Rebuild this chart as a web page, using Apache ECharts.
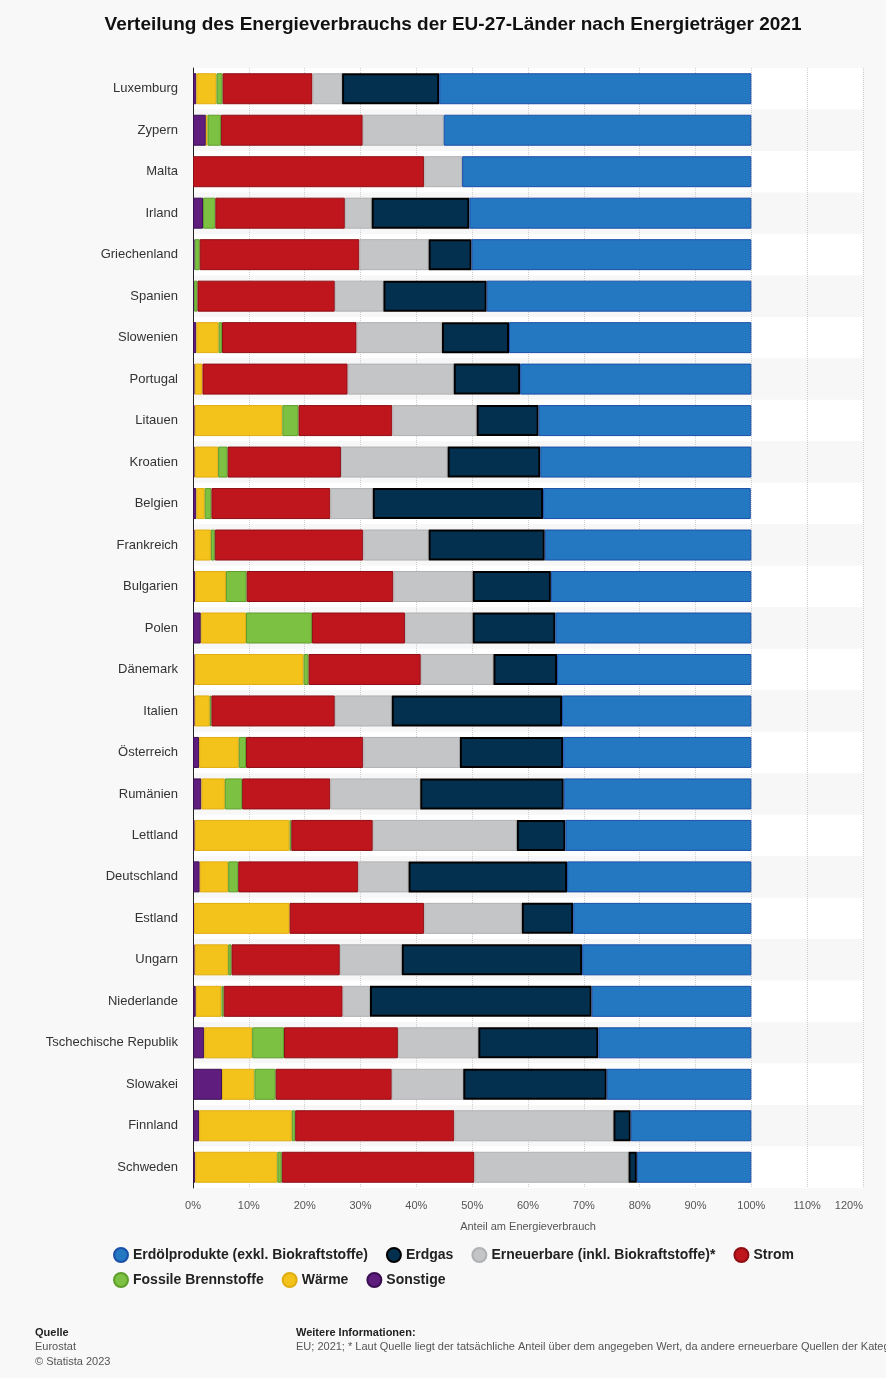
<!DOCTYPE html>
<html>
<head>
<meta charset="utf-8">
<script src="https://cdn.jsdelivr.net/npm/echarts@6/dist/echarts.min.js"></script>
<style>
html,body{margin:0;padding:0;background:#f8f8f8;}
#c{width:886px;height:1378px;}
</style>
</head>
<body>
<div id="c"></div>
<script>
const countries = ['Luxemburg','Zypern','Malta','Irland','Griechenland','Spanien','Slowenien','Portugal','Litauen','Kroatien','Belgien','Frankreich','Bulgarien','Polen','Dänemark','Italien','Österreich','Rumänien','Lettland','Deutschland','Estland','Ungarn','Niederlande','Tschechische Republik','Slowakei','Finnland','Schweden'];
const sonstige = [0.6,2.3,0,1.8,0.3,0.2,0.6,0.3,0.3,0.3,0.6,0.3,0.4,1.4,0.3,0.3,1.1,1.5,0.3,1.2,0.2,0.3,0.5,2.0,5.2,1.1,0.4];
const waerme = [3.6,0.3,0,0,0,0,4.0,1.4,15.7,4.2,1.5,2.9,5.5,8.1,19.5,2.7,7.1,4.2,17.0,5.1,17.1,6.0,4.6,8.6,5.8,16.6,14.7];
const fossile = [1.1,2.4,0,2.2,0.9,0.6,0.6,0,2.9,1.7,1.2,0.7,3.7,11.8,0.9,0.3,1.3,3.1,0.3,1.8,0,0.6,0.4,5.7,3.8,0.6,0.8];
const strom = [16.1,25.4,41.4,23.2,28.6,24.6,24.1,26.0,16.8,20.3,21.3,26.6,26.3,16.7,20.1,22.1,21.0,15.8,14.6,21.5,24.1,19.4,21.3,20.4,20.8,28.5,34.5];
const erneuerbare = [5.3,14.5,6.8,4.8,12.4,8.7,15.3,19.0,15.1,19.1,7.6,11.7,14.2,12.1,13.0,10.2,17.3,16.1,25.8,9.0,17.5,11.1,4.9,14.4,12.8,28.5,27.6];
const erdgas = [17.4,0,0,17.5,7.7,18.5,12.0,11.9,11.1,16.6,30.5,20.8,14.0,14.8,11.4,30.5,18.5,25.7,8.7,28.4,9.2,32.3,39.7,21.5,25.7,3.1,1.5];
const erdoel = [55.9,55.1,51.8,50.5,50.1,47.4,43.4,41.4,38.1,37.8,37.2,37.0,35.9,35.1,34.8,33.9,33.7,33.6,33.3,33.0,31.9,30.3,28.6,27.4,25.9,21.6,20.5];
const xTicks = [0,10,20,30,40,50,60,70,80,90,100,110,120];

const names = {
  oel:'Erdölprodukte (exkl. Biokraftstoffe)', gas:'Erdgas', ern:'Erneuerbare (inkl. Biokraftstoffe)*',
  strom:'Strom', fos:'Fossile Brennstoffe', waerme:'Wärme', sonst:'Sonstige'
};
const FONT = 'Liberation Sans, Arial, sans-serif';
const NARROW = 'Liberation Sans Narrow, Liberation Sans, Arial, sans-serif';

function mk(name, data, color, border, bw) {
  return {
    name, type:'bar', stack:'total', barWidth:31,
    itemStyle:{color, borderColor:border, borderWidth:bw},
    data: data.map(v => v === 0 ? null : v)
  };
}
const series = [
  mk(names.sonst, sonstige, '#5f1d7d', '#3a0f52', 1),
  mk(names.waerme, waerme, '#f3c21b', '#e0ad10', 1),
  mk(names.fos, fossile, '#7cc142', '#5e9e2c', 1),
  mk(names.strom, strom, '#bf151d', '#8e0e14', 1),
  mk(names.ern, erneuerbare, '#c4c5c7', '#b0b1b3', 1),
  mk(names.gas, erdgas, '#04304f', '#000000', 2),
  mk(names.oel, erdoel, '#2477c1', '#1b4fa8', 1)
];

const chart = echarts.init(document.getElementById('c'), null, {renderer:'canvas'});
chart.setOption({
  backgroundColor:'#f8f8f8',
  animation:false,
  title:{text:'Verteilung des Energieverbrauchs der EU-27-Länder nach Energieträger 2021', left:448, textAlign:'center', top:10,
    textStyle:{fontFamily:FONT, fontWeight:'bold', fontSize:19, color:'#111'}},
  legend:[
    {data:[names.oel,names.gas,names.ern,names.strom], left:108, top:1242, icon:'circle', itemWidth:14, itemHeight:14, itemGap:18,
      textStyle:{fontFamily:NARROW, fontWeight:'bold', fontSize:14, color:'#222'}},
    {data:[names.fos,names.waerme,names.sonst], left:108, top:1267, icon:'circle', itemWidth:14, itemHeight:14, itemGap:18,
      textStyle:{fontFamily:NARROW, fontWeight:'bold', fontSize:14, color:'#222'}}
  ],
  grid:{left:193, right:23, top:68, bottom:190, containLabel:false},
  xAxis:{type:'value', min:xTicks[0], max:xTicks[xTicks.length-1], interval:10,
    axisLine:{show:false}, axisTick:{show:false},
    axisLabel:{formatter:'{value}%', fontFamily:FONT, fontSize:11, color:'#555', margin:12, alignMaxLabel:'right'},
    splitLine:{show:true, lineStyle:{color:'#cfcfcf', type:'dotted', width:1}},
    name:'Anteil am Energieverbrauch', nameLocation:'middle', nameGap:33,
    nameTextStyle:{fontFamily:FONT, fontSize:11, color:'#555'}},
  yAxis:{type:'category', data:countries, inverse:true,
    axisLine:{show:true, lineStyle:{color:'#222', width:1}}, axisTick:{show:false},
    axisLabel:{fontFamily:FONT, fontSize:13, color:'#333', margin:15},
    splitArea:{show:true, areaStyle:{color:['#ffffff','#f7f7f7']}}},
  series,
  graphic:[
    {type:'text', left:35, top:1327, style:{text:'Quelle', font:'bold 11px '+FONT, fill:'#222'}},
    {type:'text', left:35, top:1341, style:{text:'Eurostat', font:'11px '+FONT, fill:'#555'}},
    {type:'text', left:35, top:1356, style:{text:'© Statista 2023', font:'11px '+FONT, fill:'#555'}},
    {type:'text', left:296, top:1327, style:{text:'Weitere Informationen:', font:'bold 11px '+FONT, fill:'#222'}},
    {type:'text', left:296, top:1341, style:{text:'EU; 2021; * Laut Quelle liegt der tatsächliche Anteil über dem angegeben Wert, da andere erneuerbare Quellen der Kategorie Sonstige zugeordnet werden', font:'11px '+FONT, fill:'#555'}}
  ]
});
</script>
</body>
</html>
